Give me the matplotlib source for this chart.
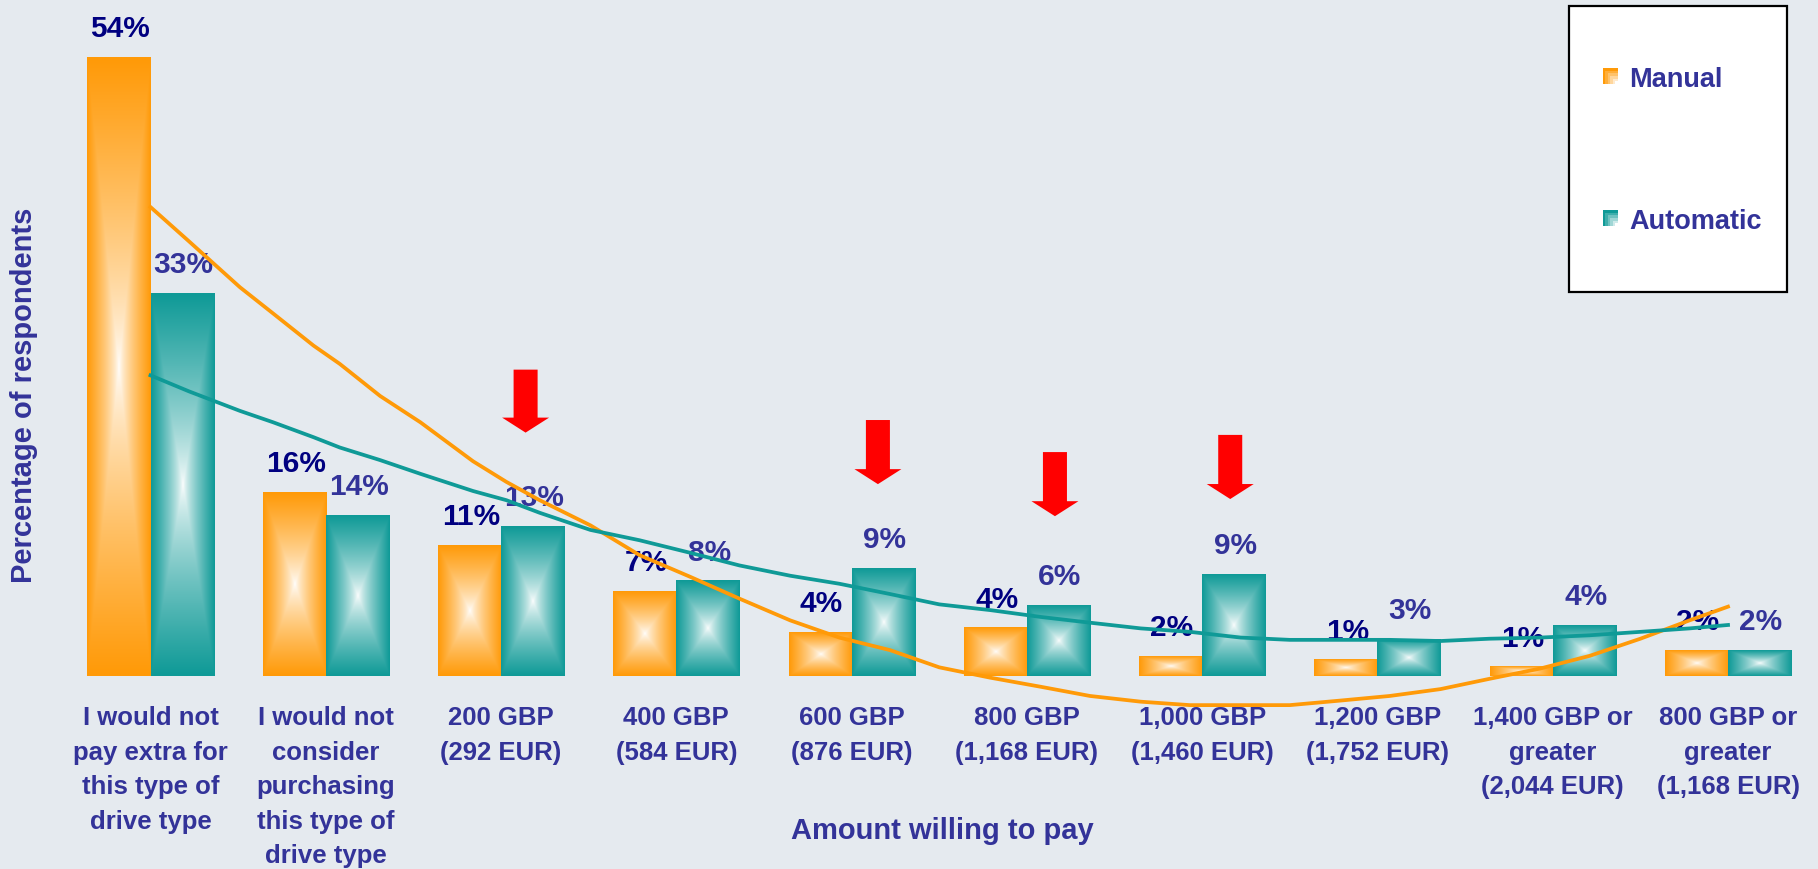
import matplotlib

matplotlib.use("Agg")
import matplotlib.pyplot as plt
import numpy as np
from matplotlib.colors import to_rgb
from matplotlib.patches import Rectangle

categories = [
    "I would not\npay extra for\nthis type of\ndrive type",
    "I would not\nconsider\npurchasing\nthis type of\ndrive type",
    "200 GBP\n(292 EUR)",
    "400 GBP\n(584 EUR)",
    "600 GBP\n(876 EUR)",
    "800 GBP\n(1,168 EUR)",
    "1,000 GBP\n(1,460 EUR)",
    "1,200 GBP\n(1,752 EUR)",
    "1,400 GBP or\ngreater\n(2,044 EUR)",
    "800 GBP or\ngreater\n(1,168 EUR)",
]
manual = [54.0, 16.0, 11.4, 7.4, 3.8, 4.2, 1.7, 1.4, 0.8, 2.2]
automatic = [33.4, 14.0, 13.1, 8.3, 9.4, 6.2, 8.9, 3.2, 4.4, 2.2]

# trend curves (category units / percent)
trend_x = [0.0, 0.22, 0.51, 0.70, 0.93, 1.08, 1.31, 1.54, 1.84, 2.03, 2.22, 2.51,
           2.79, 3.08, 3.36, 3.65, 3.93, 4.22, 4.50, 4.79, 5.08, 5.36, 5.65, 5.93,
           6.22, 6.50, 6.79, 7.07, 7.36, 7.64, 7.93, 8.21, 8.50, 8.78, 9.0]
manual_trend = [41.0, 38.0, 34.0, 31.7, 28.9, 27.3, 24.5, 22.2, 18.8, 17.0, 15.4, 13.2,
                10.6, 8.7, 6.8, 4.9, 3.4, 2.3, 0.8, -0.1, -0.9, -1.7, -2.2, -2.5,
                -2.5, -2.5, -2.1, -1.7, -1.1, -0.2, 0.7, 1.8, 3.3, 4.9, 6.1]
automatic_trend = [26.3, 24.9, 23.2, 22.2, 20.9, 20.0, 18.9, 17.7, 16.2, 15.4, 14.3, 12.8,
                   11.9, 10.8, 9.7, 8.8, 8.1, 7.2, 6.3, 5.8, 5.2, 4.7, 4.2, 3.9,
                   3.4, 3.2, 3.2, 3.2, 3.1, 3.3, 3.4, 3.6, 3.9, 4.2, 4.5]

arrow_x = [2.14, 4.15, 5.16, 6.16]
arrow_top = [26.8, 22.4, 19.6, 21.1]
arrow_tip = [21.3, 16.8, 14.0, 15.5]

ORANGE = "#FF9A08"
TEAL = "#0F9A97"
BG = "#E5EAEF"
LABEL = "#333399"
NAVY = "#000080"

plt.rcParams["font.family"] = ["Liberation Sans", "DejaVu Sans"]
plt.rcParams["font.weight"] = "bold"

W, H = 1818, 869
BASE = 676.5          # pixel row of the bar baseline
PX_PER_PCT = 11.45
X0, STEP = 150.5, 175.28

fig = plt.figure(figsize=(W / 100, H / 100), dpi=100, facecolor=BG)
ax = fig.add_axes([0, (H - BASE) / H, 1, BASE / H])
ax.set_facecolor("none")


def box_gradient(color, n=120):
    u = np.linspace(-1, 1, n)
    U, V = np.meshgrid(u, u)
    t = np.maximum(np.abs(U), np.abs(V))[..., None] ** 0.75
    return (1 - t) + t * np.array(to_rgb(color))


def corner_gradient(color, n=6):
    u = np.linspace(0, 1, n)
    U, V = np.meshgrid(u, u)
    t = np.maximum(1 - U, 1 - V)[..., None]
    return (1 - t) + t * np.array(to_rgb(color))


x = np.arange(len(categories))
width = 0.36
bars_m = ax.bar(x - width / 2, manual, width, color="none", edgecolor="none")
bars_a = ax.bar(x + width / 2, automatic, width, color="none", edgecolor="none")

for bars, vals, color, tcol in ((bars_m, manual, ORANGE, NAVY), (bars_a, automatic, TEAL, LABEL)):
    img = box_gradient(color)
    for b, v in zip(bars, vals):
        x0 = b.get_x()
        ax.imshow(img, extent=(x0, x0 + b.get_width(), 0, b.get_height()),
                  aspect="auto", interpolation="bilinear", zorder=2)
        ax.annotate(f"{v:.0f}%", (x0 + b.get_width() / 2, v), xytext=(1, 15),
                    textcoords="offset points", ha="center", va="baseline",
                    fontsize=21.5, color=tcol, fontweight="bold", zorder=3)

ax.plot(trend_x, manual_trend, color=ORANGE, lw=2.7, zorder=4, clip_on=False)
ax.plot(trend_x, automatic_trend, color=TEAL, lw=2.7, zorder=4, clip_on=False)

for xa, top, tip in zip(arrow_x, arrow_top, arrow_tip):
    ax.arrow(xa, top, 0, tip - top, width=0.137, head_width=0.268, head_length=1.31,
             length_includes_head=True, color="red", lw=0, zorder=5)

ax.set_xticks(x, categories)
ax.tick_params(axis="x", length=0, pad=21.5, labelsize=18.5, labelcolor=LABEL)
for lbl in ax.get_xticklabels():
    lbl.set_linespacing(1.55)
    lbl.set_fontweight("bold")
ax.set_yticks([])
for s in ax.spines.values():
    s.set_visible(False)
ax.set_xlim(-X0 / STEP, (W - X0) / STEP)
ax.set_ylim(0, BASE / PX_PER_PCT)

fig.text(942 / W, 1 - 831 / H, "Amount willing to pay", ha="center", va="center",
         fontsize=21, color=LABEL, fontweight="bold")
fig.text(24 / W, 1 - 395 / H, "Percentage of respondents", ha="center", va="center",
         rotation=90, fontsize=21, color=LABEL, fontweight="bold")

# legend box in pixel coordinates
lax = fig.add_axes([0, 0, 1, 1], zorder=10)
lax.set_xlim(0, W)
lax.set_ylim(H, 0)
lax.axis("off")
lax.add_patch(Rectangle((1568.5, 5.5), 218, 286.5, facecolor="white",
                        edgecolor="black", linewidth=1.6, zorder=1))
for label, color, y_top in (("Manual", ORANGE, 68), ("Automatic", TEAL, 210)):
    lax.imshow(corner_gradient(color), extent=(1603, 1618, y_top + 16, y_top),
               interpolation="nearest", aspect="auto", zorder=3)
    lax.text(1629, y_top + 19, label, va="baseline", ha="left", fontsize=19.5,
             color=LABEL, fontweight="bold", zorder=3)
lax.set_xlim(0, W)
lax.set_ylim(H, 0)

fig.savefig("out.png", dpi=100, facecolor=BG)
